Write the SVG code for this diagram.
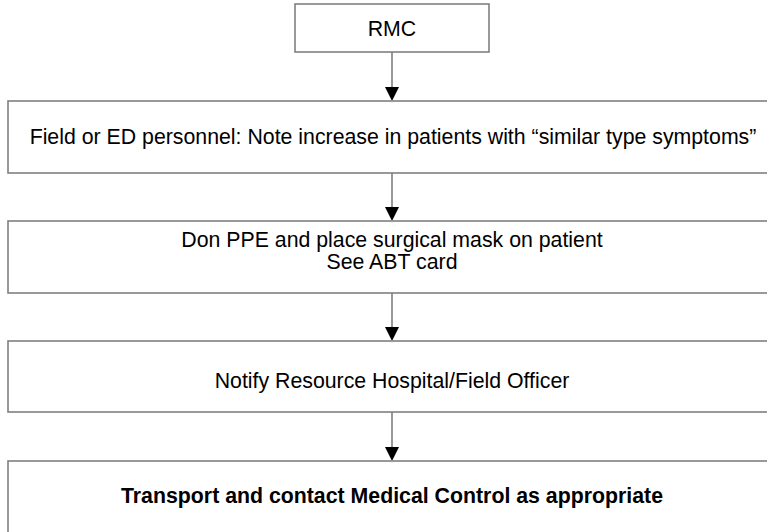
<svg xmlns="http://www.w3.org/2000/svg" width="767" height="532" viewBox="0 0 767 532">
<style>
.box{fill:#ffffff;stroke:#808080;stroke-width:1.6}
.t{font-family:"Liberation Sans",Arial,sans-serif;font-size:21.3px;fill:#000;text-anchor:middle}
.b{font-weight:bold}
.edge{stroke:#808080;stroke-width:1.6;fill:none}
.head{fill:#000}
</style>
<rect width="767" height="532" fill="#ffffff"/>
<g id="connectors">
<line class="edge" x1="392" y1="52" x2="392" y2="90"/>
<polygon class="head" points="385,87 399,87 392,101"/>
<line class="edge" x1="392" y1="173" x2="392" y2="210"/>
<polygon class="head" points="385,207 399,207 392,221"/>
<line class="edge" x1="392" y1="293" x2="392" y2="330"/>
<polygon class="head" points="385,327 399,327 392,341"/>
<line class="edge" x1="392" y1="412" x2="392" y2="450"/>
<polygon class="head" points="385,447 399,447 392,461"/>
</g>
<g id="rmc">
<rect class="box" x="295" y="4" width="194" height="48"/>
<text class="t" x="392" y="36">RMC</text>
</g>
<g id="field">
<rect class="box" x="8" y="101" width="800" height="72"/>
<text class="t" x="393" y="144">Field or ED personnel: Note increase in patients with “similar type symptoms”</text>
</g>
<g id="ppe">
<rect class="box" x="8" y="221" width="800" height="72"/>
<text class="t" x="392" y="247">Don PPE and place surgical mask on patient</text>
<text class="t" x="392" y="269">See ABT card</text>
</g>
<g id="notify">
<rect class="box" x="8" y="341" width="800" height="71"/>
<text class="t" x="392" y="388">Notify Resource Hospital/Field Officer</text>
</g>
<g id="transport">
<rect class="box" x="8" y="461" width="800" height="90"/>
<text class="t b" x="392" y="503">Transport and contact Medical Control as appropriate</text>
</g>
</svg>
